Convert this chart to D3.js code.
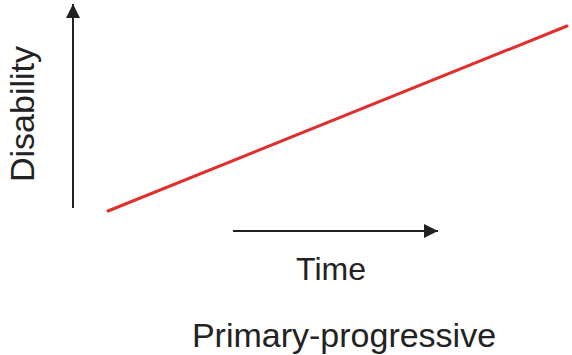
<!DOCTYPE html>
<html>
<head>
<meta charset="utf-8">
<script src="https://cdn.jsdelivr.net/npm/d3@7"></script>
<style>
  html, body { margin: 0; padding: 0; background: #fff; }
  svg { display: block; }
  text { font-family: "Liberation Sans", Arial, Helvetica, sans-serif; fill: #222; }
</style>
</head>
<body>
<svg id="chart"></svg>
<script>
// schematic course: disability rises steadily over time
const timePoints = [0, 10];
const disabilityValues = [0, 10];
const xLabel = "Time";
const yLabel = "Disability";
const title = "Primary-progressive";

const width = 572;
const height = 355;

const svg = d3.select("#chart")
    .attr("width", width)
    .attr("height", height);

const defs = svg.append("defs");
defs.append("marker")
    .attr("id", "arrow")
    .attr("viewBox", "0 0 14 14")
    .attr("refX", 14)
    .attr("refY", 7)
    .attr("markerWidth", 14)
    .attr("markerHeight", 14)
    .attr("markerUnits", "userSpaceOnUse")
    .attr("orient", "auto")
    .append("path")
    .attr("d", "M0,0 L14,7 L0,14 Z")
    .attr("fill", "#222");

const x = d3.scaleLinear().domain([0, 10]).range([108, 567]);
const y = d3.scaleLinear().domain([0, 10]).range([211, 26]);

// vertical (disability) arrow
svg.append("line")
    .attr("x1", 73).attr("y1", 208)
    .attr("x2", 73).attr("y2", 4)
    .attr("stroke", "#222")
    .attr("stroke-width", 2)
    .attr("marker-end", "url(#arrow)");

// horizontal (time) arrow
svg.append("line")
    .attr("x1", 233).attr("y1", 231)
    .attr("x2", 438).attr("y2", 231)
    .attr("stroke", "#222")
    .attr("stroke-width", 2)
    .attr("marker-end", "url(#arrow)");

const data = timePoints.map((t, i) => ({t: t, d: disabilityValues[i]}));

const line = d3.line()
    .x(d => x(d.t))
    .y(d => y(d.d));

svg.append("path")
    .datum(data)
    .attr("d", line)
    .attr("fill", "none")
    .attr("stroke", "#e0302e")
    .attr("stroke-width", 3)
    .attr("stroke-linecap", "round");

svg.append("text")
    .attr("x", 331)
    .attr("y", 280)
    .attr("text-anchor", "middle")
    .attr("font-size", 32)
    .text(xLabel);

svg.append("text")
    .attr("transform", "translate(34,114) rotate(-90)")
    .attr("text-anchor", "middle")
    .attr("font-size", 34)
    .text(yLabel);

svg.append("text")
    .attr("x", 344)
    .attr("y", 347)
    .attr("text-anchor", "middle")
    .attr("font-size", 34)
    .text(title);
</script>
</body>
</html>
